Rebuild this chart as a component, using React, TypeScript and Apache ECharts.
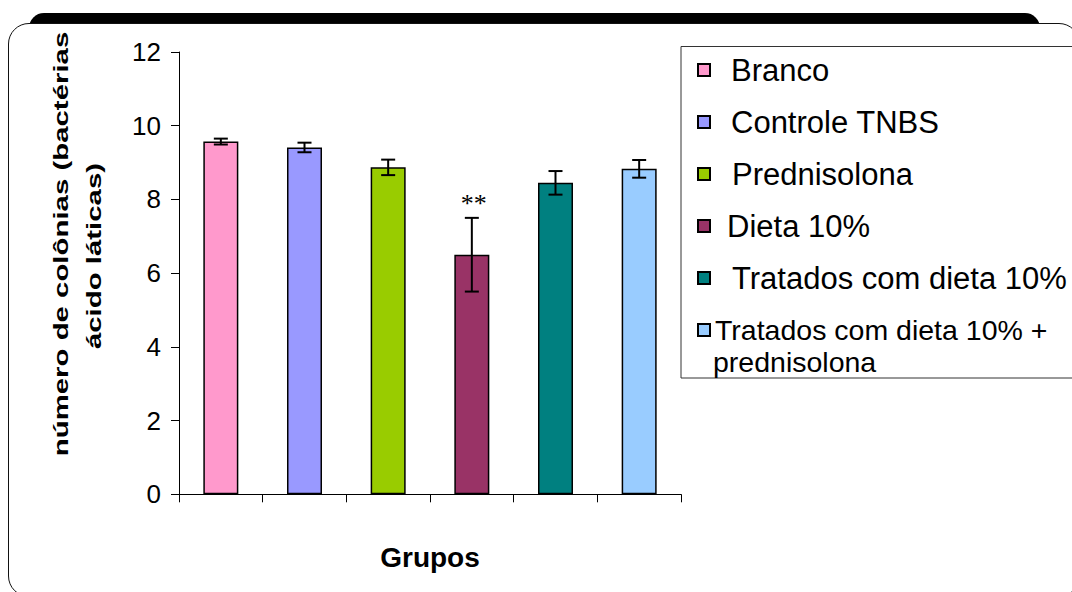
import React, { useEffect, useRef } from 'react';
import * as echarts from 'echarts';

const categories = [
  'Branco',
  'Controle TNBS',
  'Prednisolona',
  'Dieta 10%',
  'Tratados com dieta 10%',
  'Tratados com dieta 10% + prednisolona',
];
const means = [9.57, 9.41, 8.87, 6.5, 8.45, 8.83];
const errors = [0.08, 0.13, 0.21, 1.0, 0.32, 0.24];
const annotations = ['', '', '', '**', '', ''];
const colors = ['#FF99CC', '#9999FF', '#99CC00', '#993366', '#008080', '#99CCFF'];
const legendPads = [16, 16, 17, 12, 17, 0];
const legendSizes = [31, 31, 31, 31, 31, 28.5];
const yTitleLines = ['número de colônias (bactérias', 'ácido láticas)'];
const xTitle = 'Grupos';

const SANS = '"Liberation Sans", Arial, Helvetica, sans-serif';

export default function App() {
  const ref = useRef<HTMLDivElement>(null);
  useEffect(() => {
    const chart = echarts.init(ref.current!, null, { renderer: 'svg' });
    const rich: any = {};
    legendPads.forEach((p, i) => {
      rich['p' + i] = { padding: [0, 0, 0, p], fontSize: legendSizes[i], lineHeight: 34, fontFamily: SANS, color: '#000' };
    });
    chart.setOption({
      animation: false,
      backgroundColor: 'transparent',
      grid: { left: 179, top: 52, width: 502, height: 442.3, containLabel: false },
      xAxis: {
        type: 'category',
        data: categories,
        axisLine: { lineStyle: { color: '#000', width: 1 } },
        axisTick: { show: true, interval: 0, length: 8, alignWithLabel: false, lineStyle: { color: '#000' } },
        axisLabel: { show: false, interval: 0 },
        name: xTitle,
        nameLocation: 'middle',
        nameGap: 49,
        nameTextStyle: { fontFamily: SANS, fontWeight: 'bold', fontSize: 28, color: '#000' },
      },
      yAxis: {
        type: 'value',
        min: 0,
        max: 12,
        interval: 2,
        splitLine: { show: false },
        axisLine: { show: true, lineStyle: { color: '#000', width: 1 } },
        axisTick: { show: true, length: 8, lineStyle: { color: '#000' } },
        axisLabel: {
          margin: 18,
          fontSize: 26,
          fontFamily: '"Liberation Sans Narrow", "Arial Narrow", ' + SANS,
          color: '#000',
        },
      },
      legend: {
        orient: 'vertical',
        left: 697,
        top: 53,
        padding: 0,
        itemWidth: 12,
        itemHeight: 12,
        itemGap: 18,
        icon: 'rect',
        data: categories,
        textStyle: { fontSize: 31, lineHeight: 34, fontFamily: SANS, color: '#000', rich },
        formatter: (name: string) => {
          const i = categories.indexOf(name);
          const label = i === 5 ? 'Tratados com dieta 10% +' : name;
          return '{p' + i + '|' + label + '}';
        },
      },
      graphic: [
        {
          type: 'rect',
          shape: { x: 681, y: 46.5, width: 430, height: 331.5 },
          style: { fill: 'none', stroke: '#333', lineWidth: 1 },
          z: 1,
        },
        {
          type: 'text',
          x: 713,
          y: 362,
          style: { text: 'prednisolona', font: '28.5px ' + SANS, fill: '#000', align: 'left', verticalAlign: 'middle' },
          z: 5,
        },
        {
          type: 'text',
          x: 61,
          y: 244,
          rotation: Math.PI / 2,
          scaleX: 1.4,
          style: { text: yTitleLines[0], font: 'bold 21px ' + SANS, fill: '#000', align: 'center', verticalAlign: 'middle' },
        },
        {
          type: 'text',
          x: 94,
          y: 256,
          rotation: Math.PI / 2,
          scaleX: 1.4,
          style: { text: yTitleLines[1], font: 'bold 21px ' + SANS, fill: '#000', align: 'center', verticalAlign: 'middle' },
        },
      ],
      series: [
        ...categories.map((name, i) => ({
          type: 'bar',
          name,
          data: means.map((v, j) => (j === i ? v : '-')),
          barWidth: 35,
          barGap: '-100%',
          itemStyle: { color: colors[i], borderColor: '#000', borderWidth: 1.5 },
        })),
        {
          type: 'custom',
          name: 'erro',
          data: means.map((m, i) => [i, m - errors[i], m + errors[i]]),
          encode: { x: 0, y: [1, 2] },
          z: 10,
          renderItem: (params: any, api: any) => {
            const i = api.value(0);
            const lo = api.coord([i, api.value(1)]);
            const hi = api.coord([i, api.value(2)]);
            const half = 7;
            const style = { stroke: '#000', lineWidth: 2 };
            const children: any[] = [
              { type: 'line', shape: { x1: hi[0], y1: hi[1], x2: lo[0], y2: lo[1] }, style },
              { type: 'line', shape: { x1: hi[0] - half, y1: hi[1], x2: hi[0] + half, y2: hi[1] }, style },
              { type: 'line', shape: { x1: lo[0] - half, y1: lo[1], x2: lo[0] + half, y2: lo[1] }, style },
            ];
            const note = annotations[params.dataIndex];
            if (note) {
              children.push({
                type: 'text',
                x: hi[0] + 2,
                y: hi[1] - 27,
                style: { text: note, font: '26px "Liberation Serif", serif', fill: '#000', align: 'center', verticalAlign: 'top' },
              });
            }
            return { type: 'group', children };
          },
        },
      ],
    });
    return () => chart.dispose();
  }, []);
  return (
    <div style={{ position: 'fixed', left: 0, top: 0, width: 1072, height: 592, overflow: 'hidden', background: '#fff' }}>
      <div style={{ position: 'absolute', left: 29, top: 12.5, width: 1011, height: 60, background: '#000', borderRadius: '15px 15px 0 0' }} />
      <div style={{ position: 'absolute', left: 8, top: 22.5, width: 1072, height: 574, background: '#fff', border: '1.5px solid #111', borderRadius: 21, boxSizing: 'border-box' }} />
      <div ref={ref} style={{ position: 'absolute', left: 0, top: 0, width: 1072, height: 592 }} />
    </div>
  );
}
